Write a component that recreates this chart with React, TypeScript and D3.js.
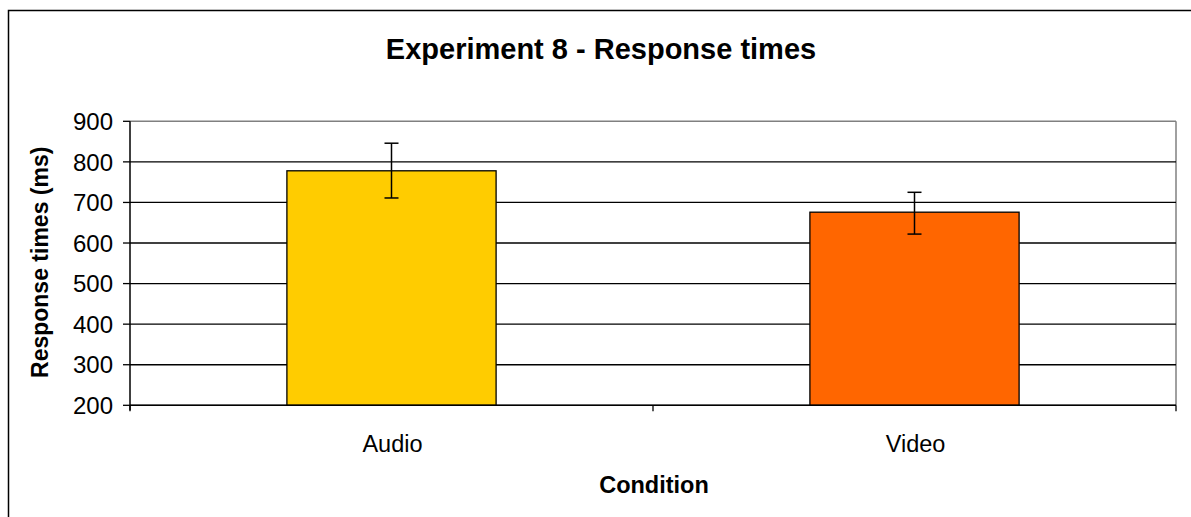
import React from "react";
import * as d3 from "d3";

const categories = ["Audio", "Video"];
const means = [778, 676];
const errLow = [711, 622];
const errHigh = [846, 725];
const barColors = ["#FFCC00", "#FF6600"];
const yTicks = [200, 300, 400, 500, 600, 700, 800, 900];
const title = "Experiment 8 - Response times";
const xTitle = "Condition";
const yTitle = "Response times (ms)";

export default function App() {
  const W = 1191, H = 517;
  const left = 130, right = 1176, top = 121.3, bottom = 405.3;
  const x = d3.scaleBand<string>().domain(categories).range([left, right]).paddingInner(0.6).paddingOuter(0.3);
  const y = d3.scaleLinear().domain([200, 900]).range([bottom, top]);
  const font = "Arial, 'Liberation Sans', sans-serif";
  const step = (right - left) / categories.length;
  const xTickPos = d3.range(categories.length + 1).map((i) => left + i * step);
  return (
    <svg width={W} height={H} style={{ position: "absolute", left: 0, top: 0 }} fontFamily={font}>
      <rect x={0} y={0} width={W} height={H} fill="#fff" />
      <rect x={8.5} y={10.5} width={1200} height={600} fill="none" stroke="#000" strokeWidth={1.5} />
      <text x={601} y={59} textAnchor="middle" fontSize={29} fontWeight="bold">{title}</text>
      {/* plot border top/right */}
      <line x1={left} x2={right} y1={y(900)} y2={y(900)} stroke="#808080" strokeWidth={1.5} />
      <line x1={right} x2={right} y1={y(900)} y2={y(200)} stroke="#808080" strokeWidth={1.5} />
      {yTicks.filter((t) => t !== 900).map((t) => (
        <line key={t} x1={left} x2={right} y1={y(t)} y2={y(t)} stroke="#000" strokeWidth={1.3} />
      ))}
      {categories.map((c, i) => (
        <rect key={c} x={x(c)} y={y(means[i])} width={x.bandwidth()} height={y(200) - y(means[i])}
          fill={barColors[i]} stroke="#000" strokeWidth={1.3} />
      ))}
      {categories.map((c, i) => {
        const cx = (x(c) as number) + x.bandwidth() / 2;
        return (
          <g key={c + "e"} stroke="#000" strokeWidth={1.5}>
            <line x1={cx} x2={cx} y1={y(errHigh[i])} y2={y(errLow[i])} />
            <line x1={cx - 7} x2={cx + 7} y1={y(errHigh[i])} y2={y(errHigh[i])} />
            <line x1={cx - 7} x2={cx + 7} y1={y(errLow[i])} y2={y(errLow[i])} />
          </g>
        );
      })}
      {/* axes */}
      <line x1={left} x2={left} y1={y(900)} y2={y(200) + 5} stroke="#000" strokeWidth={1.5} />
      <line x1={left} x2={right} y1={y(200)} y2={y(200)} stroke="#000" strokeWidth={1.5} />
      {yTicks.map((t) => (
        <g key={"t" + t}>
          <line x1={left - 7} x2={left} y1={y(t)} y2={y(t)} stroke="#000" strokeWidth={1.3} />
          <text x={113} y={y(t)} dy="0.36em" textAnchor="end" fontSize={24}>{t}</text>
        </g>
      ))}
      {xTickPos.map((p, i) => (
        <line key={"x" + i} x1={p} x2={p} y1={y(200)} y2={y(200) + 6} stroke="#000" strokeWidth={1.3} />
      ))}
      {categories.map((c) => (
        <text key={c + "l"} x={(x(c) as number) + x.bandwidth() / 2 + 1} y={452} textAnchor="middle" fontSize={23.5}>{c}</text>
      ))}
      <text x={654} y={493} textAnchor="middle" fontSize={23.5} fontWeight="bold">{xTitle}</text>
      <text transform={`translate(48, ${(top + bottom) / 2 - 1}) rotate(-90)`} textAnchor="middle" fontSize={23} fontWeight="bold">{yTitle}</text>
    </svg>
  );
}
